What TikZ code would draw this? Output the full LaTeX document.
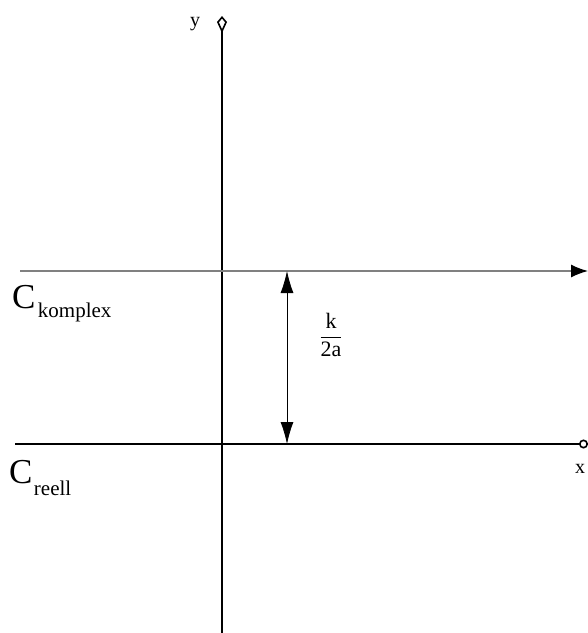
\documentclass[tikz,border=0pt]{standalone}
\usepackage{fontspec}
\setmainfont{Liberation Serif}
\usetikzlibrary{arrows.meta, positioning}

\tikzset{
    axisline/.style={line width=1.6pt, black},
    levelline/.style={line width=1.3pt, black!50},
    gapmark/.style={line width=0.8pt, {Latex[length=22pt, width=13pt]}-{Latex[length=22pt, width=13pt]}},
    biglabel/.style={inner sep=0pt, font=\fontsize{35}{35}\selectfont},
    sublabel/.style={inner sep=0pt, font=\fontsize{21}{21}\selectfont},
    axislabel/.style={inner sep=0pt, font=\fontsize{20}{20}\selectfont}
}

\begin{document}
\begin{tikzpicture}[x=1pt, y=-1pt]
    \useasboundingbox (0,0) rectangle (588,633);

    % axes and the two lines
    \coordinate (ybot) at (222,633);
    \coordinate (ytop) at (222,16);
    \coordinate (kleft) at (20,271);
    \coordinate (kright) at (588,271);
    \coordinate (rleft) at (15,444);
    \coordinate (rright) at (588,444);
    \coordinate (gtop) at (287,271);
    \coordinate (gbot) at (287,444);

    \draw[axisline, -{Kite[open, length=17pt, width=10pt, inset=11pt]}] (ybot) -- (ytop);
    \draw[levelline, -{Latex[length=17pt, width=13pt, black]}] (kleft) -- (kright);
    \draw[axisline, -{Circle[open, length=9pt]}] (rleft) -- (rright);
    \draw[gapmark] (gtop) -- (gbot);

    % labels
    \node[axislabel, anchor=base] (ylab) at (195,26) {y};
    \node[axislabel, anchor=base] (xlab) at (580,473) {x};
    \node[axislabel, anchor=center, font=\fontsize{22}{22}\selectfont] (gaplab) at (331,335)
        {$\displaystyle\frac{\textrm{k}}{\textrm{2a}}$};

    \node[biglabel, anchor=base west] (ck) at (12,308) {C};
    \node[sublabel, anchor=base west] (cksub) at (ck.base east) [yshift=-9pt, xshift=2pt] {komplex};
    \node[biglabel, anchor=base west] (cr) at (9,483) {C};
    \node[sublabel, anchor=base west] (crsub) at (cr.base east) [yshift=-12pt, xshift=1pt] {reell};
\end{tikzpicture}
\end{document}
